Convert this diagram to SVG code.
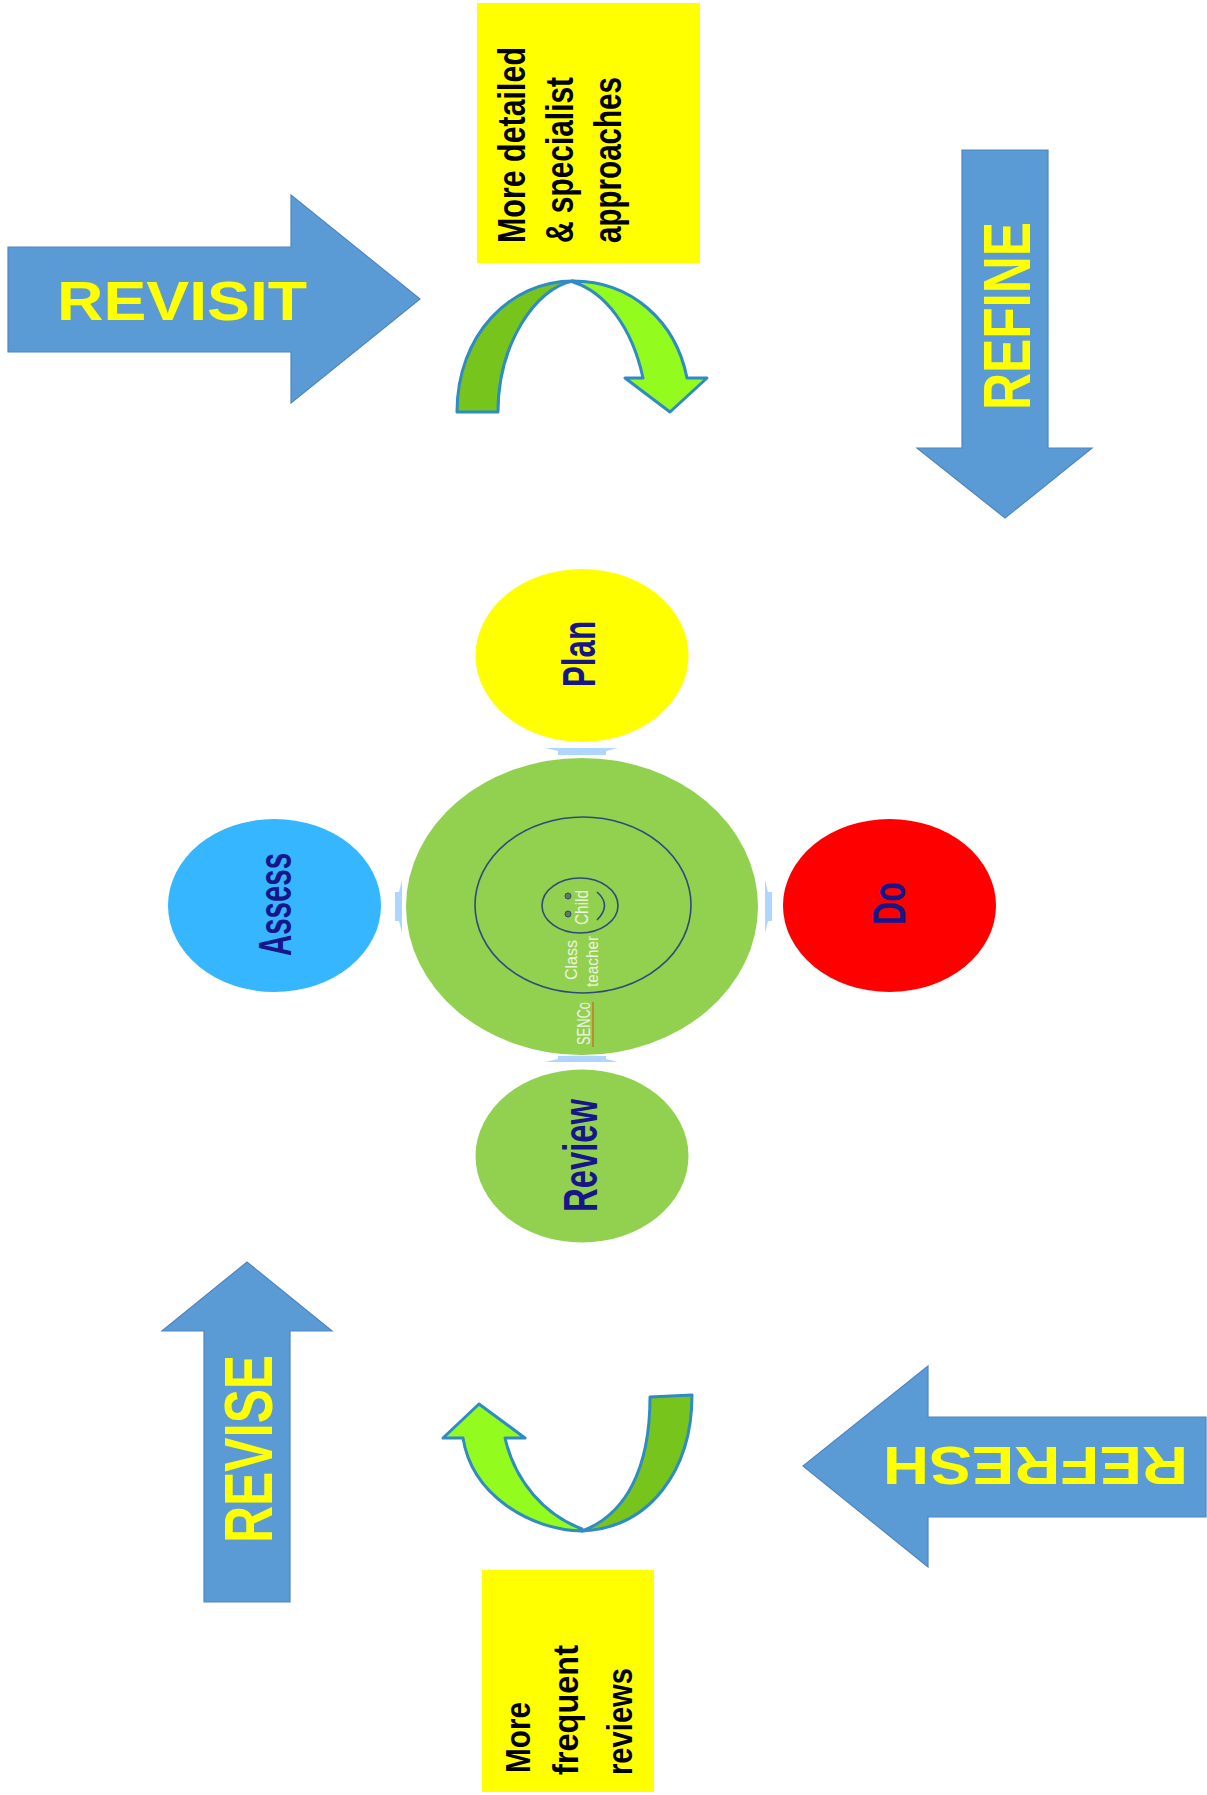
<svg xmlns="http://www.w3.org/2000/svg" width="1207" height="1795" viewBox="0 0 1207 1795">
<style>
.blue{fill:#5B9BD5;stroke:#4F86C0;stroke-width:1.2}
.big{font-family:"Liberation Sans",Arial,sans-serif;font-weight:bold;fill:#FFFF00}
.box{fill:#FFFF00}
.boxt{font-family:"Liberation Sans Narrow","Liberation Sans",Arial,sans-serif;font-weight:bold;fill:#000}
.lbl{font-family:"Liberation Sans",Arial,sans-serif;font-weight:bold;fill:#16168A}
.inner{font-family:"Liberation Sans Narrow","Liberation Sans",Arial,sans-serif;fill:#EEF4E2}
.dark{fill:#77C51C;stroke:#2E8BC4;stroke-width:3;stroke-linejoin:round}
.lime{fill:#94FB1E;stroke:#2E8BC4;stroke-width:3;stroke-linejoin:round}
.conn{fill:#AED6FF}
.ring{fill:none;stroke:#2E4A7C;stroke-width:1.6}
</style>
<rect width="1207" height="1795" fill="#FFFFFF"/>

<g id="revisit-arrow">
<polygon class="blue" points="8,247 291,247 291,195 420,299 291,403 291,352 8,352"/>
<text class="big" x="57" y="320" font-size="56" textLength="250" lengthAdjust="spacingAndGlyphs">REVISIT</text>
</g>

<g id="refine-arrow">
<polygon class="blue" points="962,150 1048,150 1048,448 1092,448 1005,518 917,448 962,448"/>
<text class="big" transform="translate(1030,410) rotate(-90)" x="0" y="0" font-size="67" textLength="188" lengthAdjust="spacingAndGlyphs">REFINE</text>
</g>

<g id="refresh-arrow">
<polygon class="blue" points="1206,1417 1206,1517 928,1517 928,1567 803,1466 928,1366 928,1417"/>
<text class="big" transform="translate(1188,1447) rotate(180)" x="0" y="0" font-size="53" textLength="305" lengthAdjust="spacingAndGlyphs">REFRESH</text>
</g>

<g id="revise-arrow">
<polygon class="blue" points="204,1602 290,1602 290,1331 332,1331 247,1262 162,1331 204,1331"/>
<text class="big" transform="translate(272,1543) rotate(-90)" x="0" y="0" font-size="68" textLength="188" lengthAdjust="spacingAndGlyphs">REVISE</text>
</g>

<g id="box-top">
<rect class="box" x="477" y="3" width="223" height="260"/>
<text class="boxt" transform="translate(525,243) rotate(-90)" font-size="38" textLength="196" lengthAdjust="spacingAndGlyphs">More detailed</text>
<text class="boxt" transform="translate(573,243) rotate(-90)" font-size="38" textLength="166" lengthAdjust="spacingAndGlyphs">&amp; specialist</text>
<text class="boxt" transform="translate(621,243) rotate(-90)" font-size="38" textLength="166" lengthAdjust="spacingAndGlyphs">approaches</text>
</g>

<g id="box-bottom">
<rect class="box" x="482" y="1570" width="172" height="222"/>
<text class="boxt" transform="translate(530,1773) rotate(-90)" font-size="35" textLength="71" lengthAdjust="spacingAndGlyphs">More</text>
<text class="boxt" transform="translate(578,1775) rotate(-90)" font-size="35" textLength="130" lengthAdjust="spacingAndGlyphs">frequent</text>
<text class="boxt" transform="translate(632,1775) rotate(-90)" font-size="35" textLength="107" lengthAdjust="spacingAndGlyphs">reviews</text>
</g>

<g id="curved-top">
<path class="dark" d="M457,412 C457,335 510,281 573,281 C535,288 498,345 498,412 Z"/>
<path class="lime" d="M573,281 C632,281 676,322 687,378 L707,378 L670,412 L625,378 L643,378 C632,327 605,292 573,282 Z"/>
</g>

<g id="curved-bottom">
<path class="dark" d="M650,1397 L692,1395 C692,1470 650,1528 582,1531 C625,1515 650,1470 650,1397 Z"/>
<path class="lime" d="M582,1531 C530,1530 472,1495 463,1438 L443,1438 L479,1404 L525,1438 L505,1438 C515,1482 545,1515 582,1529 Z"/>
</g>

<g id="connectors">
<polygon class="conn" points="545,748 618,748 606,751 606,755 558,755 558,751"/>
<polygon class="conn" points="545,1062 618,1062 606,1059 606,1056 558,1056 558,1059"/>
<polygon class="conn" points="765,880 765,933 768,921 772,921 772,892 768,892"/>
<polygon class="conn" points="402,880 402,933 399,921 395,921 395,892 399,892"/>
</g>

<g id="plan">
<ellipse cx="582" cy="655.5" rx="106.5" ry="86.5" fill="#FFFF00"/>
<text class="lbl" transform="translate(595,687) rotate(-90)" font-size="47" textLength="66" lengthAdjust="spacingAndGlyphs">Plan</text>
</g>

<g id="assess">
<ellipse cx="274.5" cy="905.5" rx="106.5" ry="86.5" fill="#35B6FF"/>
<text class="lbl" transform="translate(291,956) rotate(-90)" font-size="46" textLength="103" lengthAdjust="spacingAndGlyphs">Assess</text>
</g>

<g id="do">
<ellipse cx="889.5" cy="905.5" rx="106.5" ry="86.5" fill="#FF0000"/>
<text class="lbl" transform="translate(905,925) rotate(-90)" font-size="47" textLength="43" lengthAdjust="spacingAndGlyphs">Do</text>
</g>

<g id="review">
<ellipse cx="582" cy="1156" rx="106.5" ry="86.5" fill="#92D050"/>
<text class="lbl" transform="translate(597,1212) rotate(-90)" font-size="48" textLength="113" lengthAdjust="spacingAndGlyphs">Review</text>
</g>

<g id="center">
<ellipse cx="582" cy="906.5" rx="176" ry="148.5" fill="#92D050"/>
<ellipse class="ring" cx="583" cy="905" rx="108" ry="88"/>
<ellipse class="ring" cx="580" cy="905.5" rx="38" ry="27.5"/>
<circle cx="568" cy="896" r="3" fill="#5E7D52" stroke="#2E4A7C" stroke-width="1"/>
<circle cx="568" cy="914" r="3" fill="#5E7D52" stroke="#2E4A7C" stroke-width="1"/>
<path class="ring" d="M597,892 Q612,905 597,920"/>
<text class="inner" transform="translate(588,925) rotate(-90)" font-size="18" textLength="35" lengthAdjust="spacingAndGlyphs">Child</text>
<text class="inner" transform="translate(577,980) rotate(-90)" font-size="17" textLength="40" lengthAdjust="spacingAndGlyphs">Class</text>
<text class="inner" transform="translate(598,987) rotate(-90)" font-size="17" textLength="51" lengthAdjust="spacingAndGlyphs">teacher</text>
<text class="inner" transform="translate(590,1045) rotate(-90)" font-size="18" textLength="43" lengthAdjust="spacingAndGlyphs">SENCo</text>
<line x1="593" y1="1002" x2="593" y2="1047" stroke="#C8742E" stroke-width="1.5"/>
</g>
</svg>
